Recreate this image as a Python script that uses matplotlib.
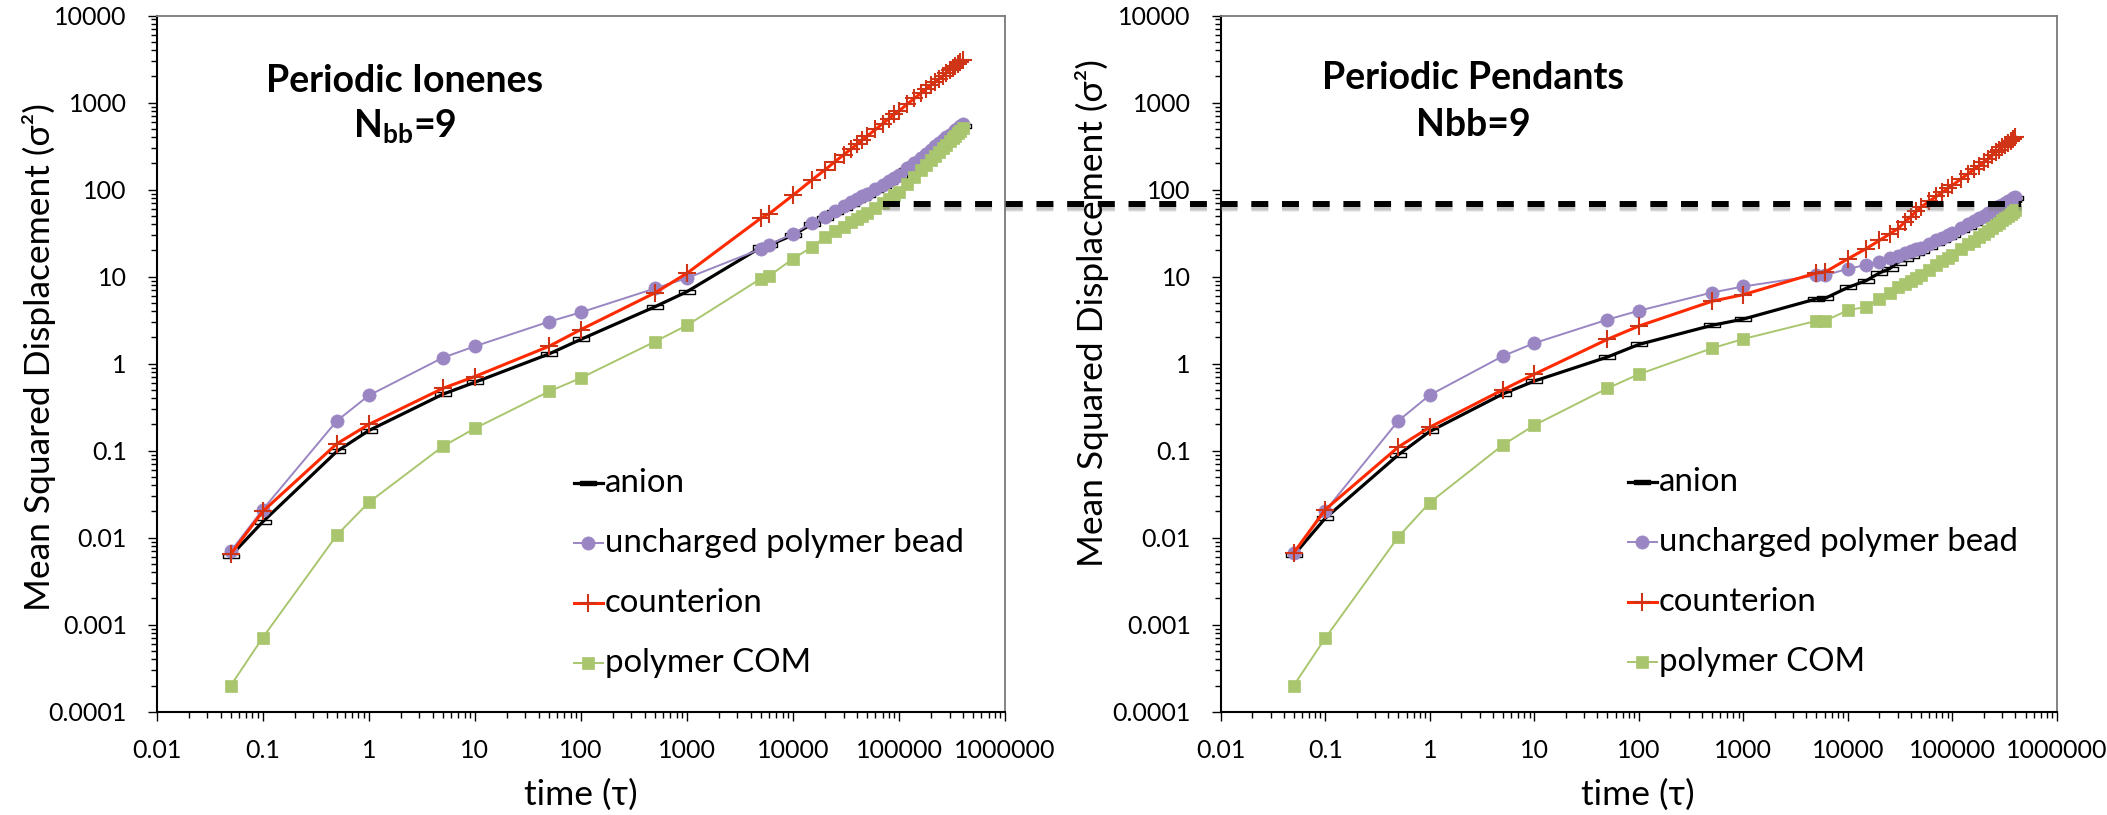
import numpy as np
import matplotlib
matplotlib.use("Agg")
import matplotlib.pyplot as plt
from matplotlib.path import Path
from matplotlib.lines import Line2D
from matplotlib.ticker import FixedLocator, LogLocator, FuncFormatter, NullFormatter
import matplotlib.patheffects as pe

plt.rcParams['font.family'] = ['Lato', 'DejaVu Sans']
plt.rcParams['mathtext.fontset'] = 'custom'
plt.rcParams['mathtext.rm'] = 'Lato'
plt.rcParams['mathtext.bf'] = 'Lato:bold'
plt.rcParams['lines.scale_dashes'] = False

# ---------------- data ----------------
time_tau = [0.05, 0.1, 0.5, 1, 5, 10, 50, 100, 500, 1000,
            5000, 6000, 10000, 15000, 20000, 25000, 30000, 35000, 40000, 45000, 50000,
            60000, 70000, 80000, 90000, 100000,
            120000, 140000, 160000, 180000, 200000, 220000, 240000, 260000, 280000,
            300000, 320000, 340000, 360000, 380000, 400000]

series_labels = ["anion", "uncharged polymer bead", "counterion", "polymer COM"]

# Periodic ionenes
ionene_anion = [0.0062, 0.0152, 0.098, 0.17, 0.445, 0.61, 1.29, 1.90, 4.5, 6.7,
                21.7, 23, 30, 40, 47, 55, 62, 69, 75, 81, 87,
                99, 110, 121, 132, 142,
                169, 196, 223, 250, 277, 304, 331, 358, 384, 411, 437, 464, 490, 516, 542]
ionene_bead = [0.0070, 0.021, 0.22, 0.43, 1.17, 1.58, 3.03, 3.88, 7.3, 9.6,
               20.8, 23.3, 31, 41, 49, 57, 64, 71, 78, 84, 90,
               102, 113, 125, 136, 147,
               175, 203, 231, 259, 287, 315, 342, 370, 397, 425, 452, 479, 506, 533, 560]
ionene_counterion = [0.0065, 0.020, 0.12, 0.20, 0.52, 0.71, 1.58, 2.46, 6.5, 10.9,
                     47, 53, 86, 128, 168, 210, 250, 290, 330, 370, 410,
                     490, 570, 650, 730, 800,
                     960, 1120, 1270, 1430, 1580, 1730, 1880, 2040, 2190, 2340, 2490, 2640,
                     2790, 2940, 3100]
ionene_com = [0.0002, 0.00071, 0.0107, 0.0254, 0.112, 0.18, 0.478, 0.684, 1.79, 2.75,
              9.5, 10.2, 16, 21.7, 28.6, 33, 37.5, 42, 46, 50, 54,
              62, 70, 78, 86, 94,
              117, 141, 166, 192, 218, 245, 273, 301, 329, 357, 387, 416, 446, 476, 508]

# Periodic pendants
pendant_anion = [0.0063, 0.0167, 0.0895, 0.166, 0.448, 0.63, 1.19, 1.66, 2.75, 3.25,
                 5.55, 5.6, 7.5, 9.0, 11.0, 12.3, 14.5, 16, 17.3, 18.5, 19.7,
                 22, 24.3, 26.4, 28.4, 30.2,
                 34, 37.6, 41, 44.3, 47.5, 51, 54.3, 57.6, 61, 64, 67, 70, 73, 76, 79]
pendant_bead = [0.0066, 0.0203, 0.22, 0.435, 1.22, 1.72, 3.2, 4.05, 6.55, 7.7,
                10.3, 10.3, 12.3, 13.6, 14.9, 16.2, 17.4, 18.5, 19.5, 20.5, 21.4,
                23.8, 26, 28.1, 30.1, 32,
                36, 39.7, 43.3, 46.7, 50, 53.6, 57.1, 60.6, 64, 67.3, 70.5, 73.6, 76.8, 80, 83]
pendant_counterion = [0.0067, 0.021, 0.11, 0.186, 0.50, 0.755, 1.90, 2.7, 5.2, 6.2,
                      11.0, 11.2, 16, 21, 26, 30.8, 35.5, 42.2, 49, 56, 63,
                      73.4, 83.4, 93, 103, 112,
                      132, 151, 170, 188, 207, 227, 247, 267, 287, 306, 326, 345, 365, 385, 405]
pendant_com = [0.0002, 0.0007, 0.0102, 0.0253, 0.116, 0.196, 0.52, 0.755, 1.50, 1.92,
               3.1, 3.1, 4.1, 4.5, 5.5, 6.4, 7.5, 8.3, 9.0, 9.6, 10.3,
               11.9, 13.5, 15, 16.5, 17.9,
               20.7, 23.4, 25.9, 28.5, 31, 33.7, 36.4, 39.2, 41.8, 44.5, 47.1, 49.7, 52.4, 55, 57.5]

panel_titles = ["Periodic Ionenes", "Periodic Pendants"]
panel_subtitles = [r"N$_\mathbf{bb}$=9", "Nbb=9"]
x_ticks = [0.01, 0.1, 1, 10, 100, 1000, 10000, 100000, 1000000]
y_ticks = [0.0001, 0.001, 0.01, 0.1, 1, 10, 100, 1000, 10000]
x_label = "time (\u03c4)"
y_label = "Mean Squared Displacement (\u03c3\u00b2)"
msd_threshold = 68          # horizontal reference level (sigma^2)
threshold_t_start = 7.0e4   # on the ionene panel
threshold_t_end = 4.5e5     # on the pendant panel

# ---------------- styles ----------------
W, H = 2107, 815
fig = plt.figure(figsize=(W / 100, H / 100), dpi=100)


def axes_px(left, top, right, bottom):
    return fig.add_axes([left / W, 1 - bottom / H, (right - left) / W, (bottom - top) / H])


ax1 = axes_px(156.7, 15.5, 1005, 711.7)
ax2 = axes_px(1220.7, 15.5, 2057, 711.7)

dash_marker = Path([(-1, -0.3), (1, -0.3), (1, 0.3), (-1, 0.3), (-1, -0.3)],
                   [Path.MOVETO, Path.LINETO, Path.LINETO, Path.LINETO, Path.CLOSEPOLY])

styles = [
    dict(color='black', lw=2.3, marker=dash_marker, ms=11, mfc='none', mec='black', mew=1.0),
    dict(color='#9A86C2', lw=1.4, marker='o', ms=9.5, mfc='#9A86C2', mec='#9A86C2', mew=0.5),
    dict(color='#FF2A00', lw=2.2, marker='+', ms=12.5, mec='#CF3417', mew=1.5),
    dict(color='#A9C66E', lw=1.4, marker='s', ms=8.5, mfc='#A9C66E', mec='#A9C66E', mew=0.5),
]

KEY_FONTSIZE = 23.8
LABEL_FONTSIZE = 25.5
TITLE_FONTSIZE = 27


def fmt_plain(v, _pos):
    if v <= 0:
        return ""
    dec = max(0, -int(np.floor(np.log10(v) + 1e-9)))
    return f"{v:.{dec}f}"


def draw_key(ax, x0, x1, y0, dy):
    for i, (label, st) in enumerate(zip(series_labels, styles)):
        y = y0 - i * dy
        ax.add_line(Line2D([x0, (x0 + x1) / 2, x1], [y, y, y], transform=ax.transAxes,
                           markevery=[1], clip_on=False, **st))
        ax.text(x1 + 0.002, y, label, transform=ax.transAxes, ha='left', va='center',
                fontsize=KEY_FONTSIZE)


panels = [
    (ax1, [ionene_anion, ionene_bead, ionene_counterion, ionene_com]),
    (ax2, [pendant_anion, pendant_bead, pendant_counterion, pendant_com]),
]

for ax, data in panels:
    for values, st in zip(data, styles):
        ax.plot(time_tau, values, **st)
    ax.set_xscale('log')
    ax.set_yscale('log')
    ax.set_xlim(0.01, 1e6)
    ax.set_ylim(1e-4, 1e4)
    ax.xaxis.set_major_locator(FixedLocator(x_ticks))
    ax.yaxis.set_major_locator(FixedLocator(y_ticks))
    ax.xaxis.set_minor_locator(LogLocator(base=10, subs=np.arange(2, 10), numticks=100))
    ax.yaxis.set_minor_locator(LogLocator(base=10, subs=np.arange(2, 10), numticks=100))
    ax.xaxis.set_major_formatter(FuncFormatter(fmt_plain))
    ax.yaxis.set_major_formatter(FuncFormatter(fmt_plain))
    ax.xaxis.set_minor_formatter(NullFormatter())
    ax.yaxis.set_minor_formatter(NullFormatter())
    ax.tick_params(which='major', direction='out', length=6.5, width=1.0, labelsize=18,
                   colors='black')
    ax.tick_params(axis='x', which='major', pad=13)
    ax.tick_params(axis='y', which='major', pad=15)
    ax.tick_params(which='minor', direction='out', length=4.5, width=1.0, colors='black')
    for side in ('left', 'bottom'):
        ax.spines[side].set_color('black')
        ax.spines[side].set_linewidth(1.5)
    for side in ('top', 'right'):
        ax.spines[side].set_color('#7a7a7a')
        ax.spines[side].set_linewidth(1.3)

# panel headings
ax1.text(0.2927, 0.9065, panel_titles[0], transform=ax1.transAxes, ha='center', va='center',
         fontsize=TITLE_FONTSIZE, fontweight='bold')
ax1.text(0.2927, 0.8398, panel_subtitles[0], transform=ax1.transAxes, ha='center', va='center',
         fontsize=TITLE_FONTSIZE, fontweight='bold')
ax2.text(0.3017, 0.910, panel_titles[1], transform=ax2.transAxes, ha='center', va='center',
         fontsize=TITLE_FONTSIZE, fontweight='bold')
ax2.text(0.3017, 0.8426, panel_subtitles[1], transform=ax2.transAxes, ha='center', va='center',
         fontsize=TITLE_FONTSIZE, fontweight='bold')

# keys
draw_key(ax1, 0.4919, 0.5261, 0.3285, 0.0862)
draw_key(ax2, 0.4870, 0.5217, 0.3300, 0.0862)

# axis titles
fig.text(39 / W, 1 - 357 / H, y_label, rotation=90, ha='center', va='center',
         fontsize=LABEL_FONTSIZE)
fig.text(1092 / W, 1 - 313 / H, y_label, rotation=90, ha='center', va='center',
         fontsize=LABEL_FONTSIZE)
fig.text(581 / W, 1 - 795 / H, x_label, ha='center', va='center', fontsize=LABEL_FONTSIZE)
fig.text(1638 / W, 1 - 795 / H, x_label, ha='center', va='center', fontsize=LABEL_FONTSIZE)

# dashed reference level spanning both panels, with a soft drop shadow
to_fig = fig.transFigure.inverted()
p0 = to_fig.transform(ax1.transData.transform((threshold_t_start, msd_threshold)))
p1 = to_fig.transform(ax2.transData.transform((threshold_t_end, msd_threshold)))
shadow = [pe.SimpleLineShadow(offset=(0.6, -dy), shadow_color='#7a7a7a', alpha=a)
          for dy, a in ((3.6, 0.12), (2.8, 0.18), (2.0, 0.22))]
ref = Line2D([p0[0], p1[0]], [p0[1], p0[1]], transform=fig.transFigure, color='black',
             lw=4.3, dashes=(12.2, 9.9), solid_capstyle='butt',
             path_effects=shadow + [pe.Normal()])
fig.add_artist(ref)

fig.savefig('out.png', dpi=100)
